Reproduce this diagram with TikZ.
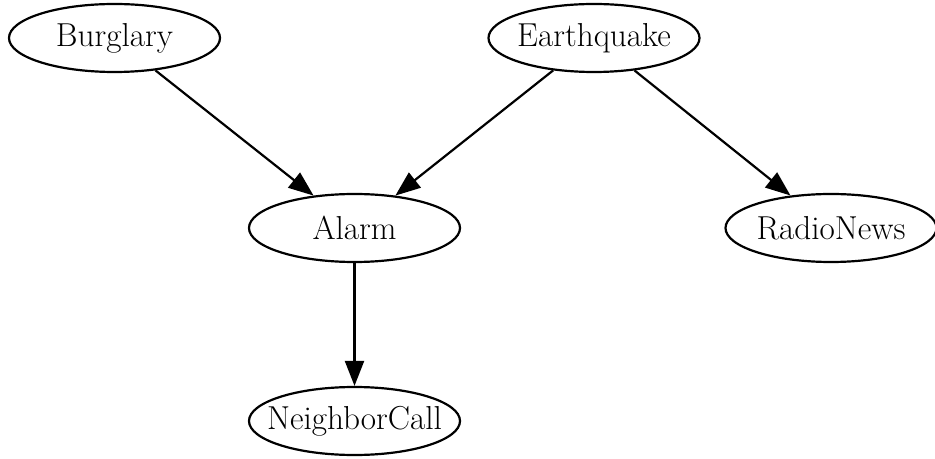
\documentclass[tikz,border=0pt]{standalone}
\usetikzlibrary{shapes.geometric,arrows.meta}
\begin{document}
\begin{tikzpicture}[x=0.5pt,y=-0.5pt,
  var/.style={draw, ellipse, line width=1.1pt, inner sep=0pt,
    minimum width=105.5pt, minimum height=34pt,
    font=\fontsize{16.6}{19}\selectfont},
  dep/.style={draw, line width=1.1pt, -{Triangle[length=12.5pt,width=9.5pt]}}]
  \useasboundingbox (0,0) rectangle (935,459);
  % random variables of the network
  \node[var] (burglary)   at (114.5,38)  {\makebox[0pt]{Burglary}};
  \node[var] (earthquake) at (594,38)    {\makebox[0pt]{Earthquake}};
  \node[var] (alarm)      at (354.5,228) {\makebox[0pt]{Alarm}};
  \node[var] (radio)      at (831,228)   {\makebox[0pt]{RadioNews}};
  \node[var] (neighbor)   at (354.5,421) {\makebox[0pt]{NeighborCall}};
  % causal dependencies
  \draw[dep] (burglary) -- (alarm);
  \draw[dep] (earthquake) -- (alarm);
  \draw[dep] (earthquake) -- (radio);
  \draw[dep] (alarm) -- (neighbor);
\end{tikzpicture}
\end{document}
